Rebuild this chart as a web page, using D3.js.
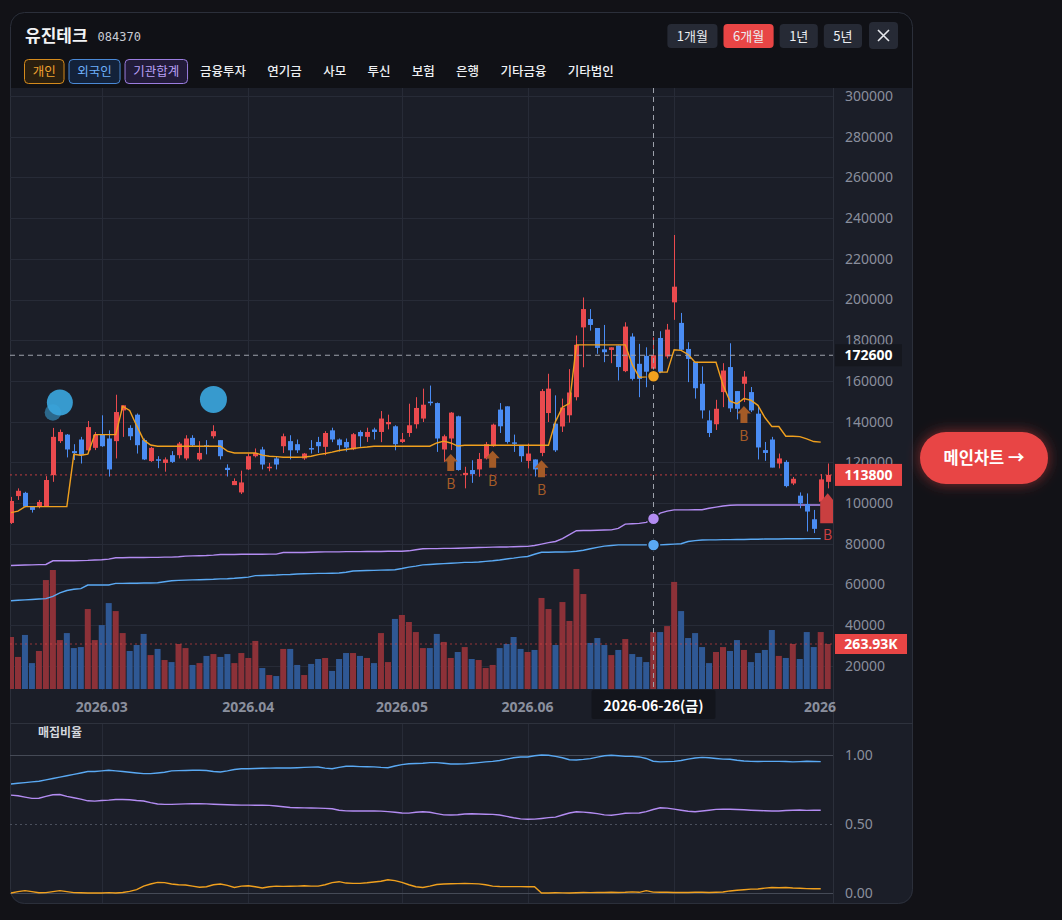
<!DOCTYPE html>
<html>
<head>
<meta charset="utf-8">
<script src="https://cdn.jsdelivr.net/npm/d3@7"></script>
<style>
  html, body { margin: 0; padding: 0; background: #121217; }
  svg { display: block; font-family: "Noto Sans CJK KR", "Noto Sans", sans-serif; }
</style>
</head>
<body>
<svg id="chart" width="1062" height="920"></svg>
<script>
// ---- data ----
var stockName = '유진테크', stockCode = '084370';
var periodButtons = ['1개월', '6개월', '1년', '5년'];
var activePeriod = '6개월';
var investorChips = ['개인', '외국인', '기관합계'];
var investorTabs = ['금융투자', '연기금', '사모', '투신', '보험', '은행', '기타금융', '기타법인'];

var febDays = [6, 9, 10, 11, 12, 13, 19, 20, 23, 24, 25, 26, 27];
var marDays = [3, 4, 5, 6, 9, 10, 11, 12, 13, 16, 17, 18, 19, 20, 23, 24, 25, 26, 27, 30, 31];
var aprDays = [1, 2, 3, 6, 7, 8, 9, 10, 13, 14, 15, 16, 17, 20, 21, 22, 23, 24, 27, 28, 29, 30];
var mayDays = [4, 6, 7, 8, 11, 12, 13, 14, 15, 18, 19, 20, 21, 22, 26, 27, 28, 29];
var junDays = [1, 2, 4, 5, 8, 9, 10, 11, 12, 15, 16, 17, 18, 19, 22, 23, 24, 25, 26, 29, 30];
var julDays = [1, 2, 3, 6, 7, 8, 9, 10, 13, 14, 15, 16, 17, 20, 21, 22, 23, 24, 27, 28, 29, 30, 31];

var opens = [90200,103400,105000,98200,98200,98500,113700,130400,133600,125500,
  131200,125900,127100,133600,131700,130400,145500,136900,143400,130900,
  120600,121500,119700,123500,123500,121900,132000,121400,128400,132800,
  130900,117300,108800,105200,116500,123000,126300,117300,121900,127900,
  130400,128900,121900,127000,130000,127600,135700,131200,130000,126400,
  134900,132500,136100,134900,138700,137700,130000,134400,138700,141500,
  149800,149100,126300,131700,142600,113700,116200,116500,121900,127900,
  145900,147500,129800,128400,120700,121400,124600,144200,139000,137600,
  143100,152000,186300,190400,186000,175500,175200,177400,164800,181800,
  168400,172300,166000,181100,172000,198600,188500,175700,169400,158600,
  140600,138700,154500,166800,155000,158600,154500,143900,126000,131200,
  119400,120200,109600,103600,99500,92000,100600,110400];
var highs = [103000,107200,105500,98500,101500,113200,136900,136100,133900,128900,
  132500,140300,134900,143100,135700,153200,148000,138200,144000,131700,
  127600,123000,122400,125500,130000,133300,133300,130400,130900,138200,
  130900,119000,112100,115900,124300,126800,127600,119700,123000,134100,
  133300,131200,124600,130900,132500,135300,137000,131700,131700,134400,
  135700,137000,137000,145200,143400,138200,134400,148800,152000,156200,
  157700,149400,133600,144700,142900,117800,121000,124600,130000,139000,
  149100,147500,133600,128400,129200,121400,156000,163500,152900,151300,
  165800,182300,201000,195300,185800,187500,176500,177400,188800,183400,
  178200,176500,181400,184400,188000,231700,193400,179000,169400,167100,
  145500,150700,168700,178500,155000,164800,157000,147900,130000,132500,
  124300,121000,112800,105200,104700,96600,114200,119400];
var lows = [89700,101500,97900,95300,97400,98300,110400,129500,122400,121100,
  119400,124300,126000,127600,113000,121900,132500,130900,124300,121100,
  120200,117100,115400,119700,121900,121000,127600,120700,123900,131700,
  121400,113000,108800,104400,116200,122400,116500,115600,116500,124600,
  121400,124600,121200,124300,124600,123500,129900,125300,125300,126000,
  127600,130000,131200,129900,136200,125900,129500,132500,136600,139800,
  147900,125100,120200,126000,115900,107200,109900,112900,121400,127600,
  134400,129200,125100,120200,117000,113000,123000,139800,125100,134900,
  139500,150400,166700,184700,173300,169200,168700,160200,164300,160200,
  152000,156900,161000,163800,171000,190000,175000,159400,151300,141500,
  132400,135900,147100,144700,141100,149600,144700,121400,120700,117500,
  117000,107700,108800,97400,86000,85200,100600,107200];
var closes = [101000,106000,98200,96600,100500,111300,132500,134900,126300,124500,
  123500,137300,133600,127900,116500,144700,148000,132800,128400,121400,
  127100,120900,121400,120200,129200,131700,128400,124600,127900,135300,
  123000,116200,110800,110100,123000,124600,118900,117800,118900,132800,
  125900,125900,124300,126400,127900,134400,131200,128400,127300,133800,
  132800,134900,134900,141500,139800,128900,131300,138200,146700,148300,
  149400,131700,132800,144400,116200,114800,114200,121600,128900,138500,
  137700,130000,129400,123000,124300,116500,155000,156200,125900,146900,
  154300,177700,195300,187500,176200,174100,176500,166800,186700,161000,
  161000,164500,172600,164300,185200,206300,175300,170800,156400,145500,
  134400,146300,165100,146500,146300,162100,145500,127300,124600,117400,
  121900,108300,111900,99800,95800,87300,111600,113800];
// volume, thousands of shares
var volumeK = [305,188,317,152,223,639,698,287,328,240,
  246,469,287,375,504,457,328,223,258,323,
  199,235,170,158,264,240,141,152,194,205,
  188,205,152,211,182,282,123,82,76,235,
  235,141,82,147,176,182,106,176,211,211,
  194,182,152,328,158,411,434,393,334,240,
  240,323,276,182,217,246,176,170,123,141,
  240,264,305,235,217,229,534,469,258,510,
  399,704,557,270,299,258,199,229,293,205,
  188,158,334,334,369,628,457,299,328,246,
  152,217,246,223,287,229,158,211,229,346,
  194,182,264,176,334,246,334,263.93];

// average buy price lines: individual / foreign / institution
var indivAvg = [95300,96000,98200,98200,98200,98200,98200,98200,98200,123900,
  123500,124000,133600,133600,133600,133600,147500,145500,138000,131000,
  128500,127900,127900,127900,127900,127900,127900,127900,127900,127900,
  127900,125500,124600,124600,124600,124600,123500,123000,122800,122500,
  122500,122500,122600,123000,123800,124300,125000,125800,126300,126800,
  127200,127500,127900,127900,127900,127900,127900,127900,127900,127900,
  127900,129500,130400,129500,128000,128400,128400,128400,128400,128400,
  128400,128400,128400,128400,128400,128400,128400,128400,140000,147100,
  149000,177700,177700,177700,177700,177700,177700,177700,177700,168000,
  161800,162000,162300,164300,164300,175300,175000,173000,169200,169200,
  169200,169200,158000,150000,148800,151300,150500,148000,142000,137600,
  137600,132800,132800,132600,131500,130200,129900];
var foreignAvg = [52000,52200,52400,52600,52800,53000,54100,55800,57000,57600,
  57900,59700,59700,59700,59700,60500,60500,60600,60600,60700,
  60700,60800,61300,61800,62000,62100,62200,62300,62400,62500,
  62700,62800,63000,63300,63600,64300,64400,64500,64600,64800,
  64900,65100,65200,65300,65400,65400,65500,65600,66000,66600,
  66700,66800,66900,67000,67100,67200,67800,68500,69000,69600,
  69800,70000,70200,70400,70600,70800,70800,71000,71300,71600,
  72000,72500,72900,73400,73700,74800,75800,75800,75900,75900,
  76000,76300,76800,77500,78200,78800,79100,79400,79400,79400,
  79400,79400,79400,79400,79600,79800,80000,81100,81500,81800,
  81900,81900,82000,82000,82100,82100,82200,82200,82300,82300,
  82300,82400,82400,82400,82500,82500,82500];
var instAvg = [69300,69400,69500,69600,69700,69800,71600,71600,71600,71600,
  71700,71800,72000,72100,72400,73100,73100,73200,73200,73200,
  73300,73300,73400,73400,73600,73900,74000,74100,74200,74400,
  74700,74700,74700,74800,74800,74800,74800,74900,74900,75700,
  75700,75700,75700,75800,75900,76000,76000,76000,76100,76100,
  76100,76200,76200,76200,76300,76300,76300,76500,77000,77500,
  77600,77600,77700,77700,77800,77900,78000,78100,78200,78300,
  78400,78400,78500,78600,78700,79100,79800,80500,81100,82500,
  84500,86400,86500,86500,86600,86700,86800,87500,89600,89800,
  90000,90500,92300,95000,96000,96600,96600,96600,96700,96700,
  97400,98000,98500,98900,99000,99000,99000,99000,99000,99000,
  99000,99000,99000,99000,99000,99000,99000];

// 매집비율 panel
var foreignRatio = [.79,.795,.80,.805,.81,.82,.83,.84,.85,.86,
  .87,.88,.88,.885,.89,.885,.88,.875,.87,.865,
  .865,.87,.875,.885,.887,.888,.89,.89,.888,.88,
  .877,.885,.895,.90,.90,.902,.904,.905,.906,.907,
  .906,.908,.91,.912,.913,.905,.90,.91,.918,.918,
  .916,.915,.914,.91,.908,.92,.93,.937,.938,.94,
  .945,.945,.94,.935,.935,.936,.94,.945,.95,.954,
  .96,.97,.98,.985,.986,.995,1.0,.998,.99,.98,
  .966,.964,.968,.974,.985,.995,.998,.995,.99,.99,
  .986,.975,.955,.95,.952,.954,.96,.97,.978,.983,
  .98,.975,.97,.969,.962,.957,.954,.953,.954,.954,
  .954,.953,.95,.952,.955,.953,.952];
var instRatio = [.709,.705,.695,.686,.687,.70,.712,.714,.70,.69,
  .68,.668,.666,.67,.673,.678,.678,.676,.67,.667,
  .655,.645,.642,.642,.644,.646,.647,.648,.646,.643,
  .641,.64,.638,.637,.637,.636,.636,.635,.63,.625,
  .62,.618,.617,.616,.615,.613,.61,.60,.595,.594,
  .594,.594,.594,.593,.59,.585,.58,.579,.585,.589,
  .585,.575,.566,.565,.567,.572,.574,.573,.571,.57,
  .565,.555,.545,.537,.534,.535,.54,.546,.55,.565,
  .58,.589,.586,.582,.575,.566,.563,.57,.578,.579,
  .58,.59,.605,.618,.615,.608,.60,.592,.589,.594,
  .60,.606,.608,.607,.605,.603,.60,.598,.596,.594,
  .594,.598,.60,.601,.599,.60,.60];
var indivRatio = [0,.01,.017,.01,.002,.003,.01,.017,.01,.003,
  .002,0,0,0,.003,0,.004,.012,.024,.05,
  .065,.077,.075,.065,.06,.058,.05,.042,.045,.06,
  .065,.055,.04,.05,.053,.045,.036,.045,.05,.048,
  .049,.05,.052,.05,.05,.06,.075,.082,.072,.07,
  .07,.074,.08,.085,.096,.09,.077,.06,.045,.04,
  .05,.062,.065,.067,.068,.07,.068,.066,.06,.05,
  .047,.046,.046,.046,.045,.046,0,0,.002,.001,
  0,.002,.004,.003,.004,.004,.005,.004,.005,.008,
  .005,.017,.006,.005,.005,.004,.004,.004,.005,.005,
  .004,.005,.007,.015,.02,.024,.028,.029,.035,.04,
  .038,.04,.036,.034,.032,.031,.031];

// markers
var foreignBubbles = [{ date: '2026-02-19', price: 144500, amount: 40 }, { date: '2026-02-20', price: 149400, amount: 100 }, { date: '2026-03-25', price: 150900, amount: 108 }];
var buySignals = ['2026-05-14', '2026-05-22', '2026-06-04', '2026-07-15'];
var bigBuySignal = '2026-07-31';

var priceTicks = [300000, 280000, 260000, 240000, 220000, 200000, 180000, 160000, 140000, 120000, 100000, 80000, 60000, 40000, 20000];
var ratioTicks = [1, 0.5, 0];
var monthTicks = [['2026-03-03', '2026.03'], ['2026-04-01', '2026.04'], ['2026-05-04', '2026.05'], ['2026-06-01', '2026.06'], ['2026-07-01', '2026.07']];
var yearTick = ['2026-07-29', '2026'];
var crossDate = '2026-06-26', crossDateLabel = '2026-06-26(금)', crossPrice = 172600;

// ---- build ----
function pad(n) { return n < 10 ? '0' + n : '' + n; }
var dates = [].concat(
  febDays.map(function(d) { return '2026-02-' + pad(d); }),
  marDays.map(function(d) { return '2026-03-' + pad(d); }),
  aprDays.map(function(d) { return '2026-04-' + pad(d); }),
  mayDays.map(function(d) { return '2026-05-' + pad(d); }),
  junDays.map(function(d) { return '2026-06-' + pad(d); }),
  julDays.map(function(d) { return '2026-07-' + pad(d); }));

var candles = dates.map(function(d, i) {
  return { date: d, o: opens[i], h: highs[i], l: lows[i], c: closes[i], v: volumeK[i] };
});

var C = {
  page: '#121217', head: '#101116', pane: '#1b1e28', grid: '#272b37', border: '#2b2f3a',
  up: '#ea4a4e', down: '#4a8cf3', volUp: '#8c3138', volDown: '#2f5894',
  indiv: '#f0a01e', foreign: '#5aa9f3', inst: '#b38cf2', axis: '#8a8f9d', brown: '#a45b27'
};

var svg = d3.select('#chart');
// (window.top is read-only, so the pane edges get their own names)
var paneL = 10, paneR = 833, paneT = 88, paneB = 690;

var x = d3.scalePoint().domain(dates).range([11, 827.7]);
var y = d3.scaleLinear().domain([100000, 300000]).range([503, 96]);
var yVol = d3.scaleLinear().domain([0, 263.93]).range([689, 644]);
var yRatio = d3.scaleLinear().domain([0, 1]).range([893, 755]);
var rBubble = d3.scaleSqrt().domain([0, 108]).range([0, 13.5]);

var defs = svg.append('defs');
defs.append('clipPath').attr('id', 'card').append('rect')
  .attr('x', 10).attr('y', 12).attr('width', 903).attr('height', 892).attr('rx', 14);
defs.append('clipPath').attr('id', 'plot').append('rect')
  .attr('x', paneL).attr('y', paneT).attr('width', paneR - paneL).attr('height', paneB - paneT);
defs.append('clipPath').attr('id', 'sub').append('rect')
  .attr('x', paneL).attr('y', 724).attr('width', paneR - paneL).attr('height', 180);
var glow = defs.append('filter').attr('id', 'glow').attr('x', '-40%').attr('y', '-60%').attr('width', '180%').attr('height', '220%');
glow.append('feDropShadow').attr('dx', 0).attr('dy', 0).attr('stdDeviation', 7)
  .attr('flood-color', '#e84545').attr('flood-opacity', 0.55);

svg.append('rect').attr('width', 1062).attr('height', 920).attr('fill', C.page);

// card
var card = svg.append('g').attr('clip-path', 'url(#card)');
card.append('rect').attr('x', 10).attr('y', 12).attr('width', 903).attr('height', 892).attr('fill', C.head);
card.append('rect').attr('x', 10).attr('y', paneT).attr('width', 903).attr('height', 816).attr('fill', C.pane);
svg.append('rect').attr('x', 10.5).attr('y', 12.5).attr('width', 902).attr('height', 891).attr('rx', 14)
  .attr('fill', 'none').attr('stroke', C.border);

// header
var head = svg.append('g');
var nameT = head.append('text').attr('x', 25).attr('y', 42).attr('fill', '#f2f3f5')
  .attr('font-size', 17).attr('font-weight', 700).text(stockName);
head.append('text').attr('x', 25 + nameT.node().getComputedTextLength() + 10).attr('y', 41)
  .attr('fill', '#c9ccd4').attr('font-size', 12).attr('font-family', 'DejaVu Sans Mono, monospace').text(stockCode);

// period buttons, laid out from the right
var bx = 898;
var closeW = 29;
head.append('rect').attr('x', bx - closeW).attr('y', 22).attr('width', closeW).attr('height', 27).attr('rx', 4).attr('fill', '#262a35');
head.append('path').attr('d', 'M' + (bx - 20) + ',30 l11,11 M' + (bx - 9) + ',30 l-11,11')
  .attr('stroke', '#e6e8ec').attr('stroke-width', 1.6);
bx -= closeW + 7;
periodButtons.slice().reverse().forEach(function(label) {
  var t = head.append('text').attr('y', 41).attr('font-size', 13).attr('text-anchor', 'middle')
    .attr('fill', '#eceef2').text(label);
  var w = t.node().getComputedTextLength() + 19;
  head.insert('rect', 'text').attr('x', bx - w).attr('y', 24).attr('width', w).attr('height', 24).attr('rx', 4)
    .attr('fill', label === activePeriod ? '#e84545' : '#262a35');
  t.attr('x', bx - w / 2);
  bx -= w + 6;
});

// investor chips and tabs
var chipStyle = {
  '개인': { stroke: '#d48a1c', fill: '#2a1f0f', text: '#f2a431' },
  '외국인': { stroke: '#4a89d6', fill: '#13223a', text: '#6eb0fb' },
  '기관합계': { stroke: '#9b7de0', fill: '#221b39', text: '#b9a0f7' }
};
var cx = 24;
investorChips.forEach(function(label) {
  var s = chipStyle[label];
  var t = head.append('text').attr('y', 76).attr('font-size', 12.5).attr('text-anchor', 'middle')
    .attr('fill', s.text).text(label);
  var w = t.node().getComputedTextLength() + 16.5;
  head.insert('rect', 'text').attr('x', cx + 0.5).attr('y', 59.5).attr('width', w).attr('height', 24).attr('rx', 4)
    .attr('fill', s.fill).attr('stroke', s.stroke);
  t.attr('x', cx + w / 2 + 0.5);
  cx += w + 5;
});
cx = 200;
investorTabs.forEach(function(label) {
  var t = head.append('text').attr('x', cx).attr('y', 76).attr('font-size', 12.5).attr('font-weight', 500)
    .attr('fill', '#eef0f3').text(label);
  cx += t.node().getComputedTextLength() + 21.3;
});

// ---- main pane ----
var grid = svg.append('g');
priceTicks.forEach(function(p) {
  grid.append('line').attr('x1', paneL).attr('x2', paneR).attr('y1', Math.round(y(p)) + 0.5).attr('y2', Math.round(y(p)) + 0.5)
    .attr('stroke', C.grid);
});
monthTicks.forEach(function(m) {
  var gx = Math.round(x(m[0])) + 0.5;
  grid.append('line').attr('x1', gx).attr('x2', gx).attr('y1', paneT).attr('y2', paneB).attr('stroke', C.grid);
  grid.append('line').attr('x1', gx).attr('x2', gx).attr('y1', 724).attr('y2', 903).attr('stroke', C.grid);
});

var plot = svg.append('g').attr('clip-path', 'url(#plot)');

// volume
plot.append('g').selectAll('rect').data(candles).join('rect')
  .attr('x', function(d) { return x(d.date) - 3; })
  .attr('width', 6)
  .attr('y', function(d) { return yVol(d.v); })
  .attr('height', function(d) { return yVol(0) - yVol(d.v); })
  .attr('fill', function(d) { return d.c >= d.o ? C.volUp : C.volDown; });

// average lines
function avgLine(vals, scale) {
  return d3.line().x(function(d, i) { return x(dates[i]); }).y(function(d) { return scale(d); })(vals);
}
plot.append('path').attr('d', avgLine(foreignAvg, y)).attr('fill', 'none').attr('stroke', C.foreign).attr('stroke-width', 1.4);
plot.append('path').attr('d', avgLine(instAvg, y)).attr('fill', 'none').attr('stroke', C.inst).attr('stroke-width', 1.4);

// reference lines
var lastC = candles[candles.length - 1];
plot.append('line').attr('x1', paneL).attr('x2', paneR).attr('y1', y(lastC.c)).attr('y2', y(lastC.c))
  .attr('stroke', '#e84545').attr('stroke-dasharray', '2,3').attr('opacity', 0.8);
plot.append('line').attr('x1', paneL).attr('x2', paneR).attr('y1', yVol(lastC.v)).attr('y2', yVol(lastC.v))
  .attr('stroke', '#e84545').attr('stroke-dasharray', '2,3').attr('opacity', 0.6);

// candles
var cg = plot.append('g').selectAll('g').data(candles).join('g')
  .attr('fill', function(d) { return d.c >= d.o ? C.up : C.down; })
  .attr('stroke', function(d) { return d.c >= d.o ? C.up : C.down; });
cg.append('line')
  .attr('x1', function(d) { return Math.round(x(d.date)) + 0.5; })
  .attr('x2', function(d) { return Math.round(x(d.date)) + 0.5; })
  .attr('y1', function(d) { return y(d.h); })
  .attr('y2', function(d) { return y(d.l); });
cg.append('rect').attr('stroke', 'none')
  .attr('x', function(d) { return Math.round(x(d.date)) - 2; })
  .attr('width', 5)
  .attr('y', function(d) { return y(Math.max(d.o, d.c)); })
  .attr('height', function(d) { return Math.max(1.5, Math.abs(y(d.o) - y(d.c))); });

plot.append('path').attr('d', avgLine(indivAvg, y)).attr('fill', 'none').attr('stroke', C.indiv).attr('stroke-width', 1.4);

// foreign bubbles
plot.append('g').selectAll('circle').data(foreignBubbles).join('circle')
  .attr('cx', function(d) { return x(d.date); })
  .attr('cy', function(d) { return y(d.price); })
  .attr('r', function(d) { return rBubble(d.amount); })
  .attr('fill', '#3aa5dc')
  .attr('opacity', function(d, i) { return i === 0 ? 0.55 : 0.92; });

// buy markers
var byDate = {};
candles.forEach(function(d) { byDate[d.date] = d; });
buySignals.forEach(function(dt) {
  var c = byDate[dt], mx = x(dt), my = y(c.l) + 4;
  plot.append('path').attr('fill', C.brown)
    .attr('d', 'M' + mx + ',' + my + ' l7,7.5 h-3.5 v9.5 h-7 v-9.5 h-3.5 Z');
  plot.append('text').attr('x', mx).attr('y', my + 35).attr('text-anchor', 'middle')
    .attr('font-size', 14).attr('fill', C.brown).text('B');
});
(function() {
  var c = byDate[bigBuySignal], mx = x(bigBuySignal), my = y(c.l) + 5;
  plot.append('path').attr('fill', '#c93f40')
    .attr('d', 'M' + mx + ',' + my + ' l7.5,9 v21 h-15 v-21 Z');
  plot.append('text').attr('x', mx).attr('y', my + 47).attr('text-anchor', 'middle')
    .attr('font-size', 14).attr('fill', '#c93f40').text('B');
})();

// crosshair
var crossX = Math.round(x(crossDate)) + 0.5;
var ci = dates.indexOf(crossDate);
svg.append('line').attr('x1', crossX).attr('x2', crossX).attr('y1', paneT).attr('y2', paneB)
  .attr('stroke', '#9da1ab').attr('stroke-dasharray', '5,4');
svg.append('line').attr('x1', paneL).attr('x2', paneR).attr('y1', y(crossPrice)).attr('y2', y(crossPrice))
  .attr('stroke', '#9da1ab').attr('stroke-dasharray', '5,4');
[[indivAvg, C.indiv], [instAvg, C.inst], [foreignAvg, C.foreign]].forEach(function(s) {
  svg.append('circle').attr('cx', crossX).attr('cy', y(s[0][ci])).attr('r', 6)
    .attr('fill', s[1]).attr('stroke', C.pane).attr('stroke-width', 1.5);
});

// price axis
svg.append('line').attr('x1', paneR + 0.5).attr('x2', paneR + 0.5).attr('y1', paneT).attr('y2', 903).attr('stroke', C.border);
var yAxis = svg.append('g').attr('transform', 'translate(' + paneR + ',0)')
  .call(d3.axisRight(y).tickValues(priceTicks).tickSize(0).tickPadding(12).tickFormat(d3.format('d')));
yAxis.select('.domain').remove();
yAxis.selectAll('text').attr('fill', C.axis).attr('font-size', 14).attr('font-family', '"Noto Sans", sans-serif');

function priceTag(val, label, fill, w) {
  var ty = y(val);
  svg.append('rect').attr('x', paneR + 2).attr('y', ty - 11).attr('width', w).attr('height', 22).attr('fill', fill);
  svg.append('text').attr('x', paneR + 2 + w / 2).attr('y', ty + 5).attr('text-anchor', 'middle')
    .attr('fill', '#ffffff').attr('font-size', 14).attr('font-weight', 700)
    .attr('font-family', '"Noto Sans", sans-serif').text(label);
}
priceTag(crossPrice, d3.format('d')(crossPrice), '#15171e', 67);
priceTag(lastC.c, d3.format('d')(lastC.c), '#e84545', 67);
(function() {
  var ty = yVol(lastC.v);
  svg.append('rect').attr('x', paneR + 2).attr('y', ty - 10).attr('width', 72).attr('height', 20).attr('fill', '#e84545');
  svg.append('text').attr('x', paneR + 38).attr('y', ty + 5).attr('text-anchor', 'middle')
    .attr('fill', '#ffffff').attr('font-size', 14).attr('font-weight', 700)
    .attr('font-family', '"Noto Sans", sans-serif').text(d3.format('.2f')(lastC.v) + 'K');
})();

// time axis
var tg = svg.append('g');
monthTicks.concat([yearTick]).forEach(function(m) {
  var tx = x(m[0]);
  if (Math.abs(tx - crossX) < 80) return;
  tg.append('text').attr('x', m === yearTick ? 836 : tx).attr('y', 712)
    .attr('text-anchor', m === yearTick ? 'end' : 'middle')
    .attr('fill', C.axis).attr('font-size', 14).attr('font-weight', 700)
    .attr('font-family', '"Noto Sans", sans-serif').text(m[1]);
});
tg.append('rect').attr('x', crossX - 62).attr('y', 690).attr('width', 124).attr('height', 29).attr('rx', 2).attr('fill', '#13151c');
tg.append('text').attr('x', crossX).attr('y', 711).attr('text-anchor', 'middle')
  .attr('fill', '#ffffff').attr('font-size', 14).attr('font-weight', 700).text(crossDateLabel);

// ---- 매집비율 pane ----
svg.append('line').attr('x1', 10).attr('x2', 913).attr('y1', 723.5).attr('y2', 723.5).attr('stroke', '#2e323d');
var sub = svg.append('g');
ratioTicks.forEach(function(r) {
  sub.append('line').attr('x1', paneL).attr('x2', paneR).attr('y1', Math.round(yRatio(r)) + 0.5).attr('y2', Math.round(yRatio(r)) + 0.5)
    .attr('stroke', r === 0.5 ? '#4a4f5c' : '#454a56').attr('stroke-dasharray', r === 0.5 ? '2,3' : null);
});
var subAxis = svg.append('g').attr('transform', 'translate(' + paneR + ',0)')
  .call(d3.axisRight(yRatio).tickValues(ratioTicks).tickSize(0).tickPadding(12).tickFormat(d3.format('.2f')));
subAxis.select('.domain').remove();
subAxis.selectAll('text').attr('fill', C.axis).attr('font-size', 14).attr('font-family', '"Noto Sans", sans-serif');
sub.append('text').attr('x', 38).attr('y', 737).attr('fill', '#d4d7de').attr('font-size', 12).attr('font-weight', 700).text('매집비율');
var subPlot = svg.append('g').attr('clip-path', 'url(#sub)');
[[foreignRatio, C.foreign], [instRatio, C.inst], [indivRatio, C.indiv]].forEach(function(s) {
  subPlot.append('path').attr('d', avgLine(s[0], yRatio)).attr('fill', 'none').attr('stroke', s[1]).attr('stroke-width', 1.4);
});

// main chart button
var btn = svg.append('g');
btn.append('rect').attr('x', 920).attr('y', 432).attr('width', 128).attr('height', 52).attr('rx', 26)
  .attr('fill', '#e84545').attr('filter', 'url(#glow)');
btn.append('text').attr('x', 984).attr('y', 464).attr('text-anchor', 'middle').attr('fill', '#ffffff')
  .attr('font-size', 16.5).attr('font-weight', 700).text('메인차트 →');
</script>
</body>
</html>
